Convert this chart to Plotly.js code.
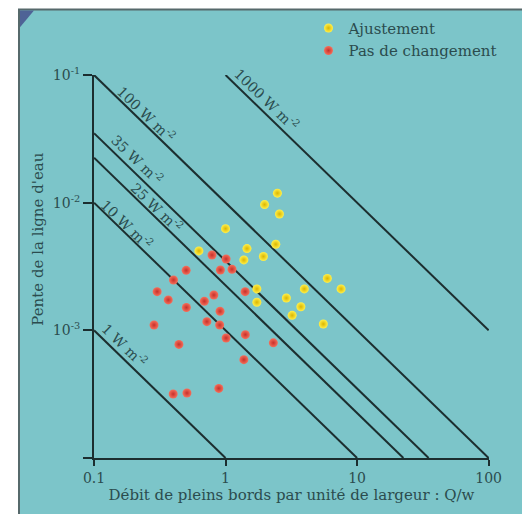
<!DOCTYPE html>
<html>
<head>
<meta charset="utf-8">
<script src="https://cdn.plot.ly/plotly-3.0.1.min.js"></script>
<style>html,body{margin:0;padding:0;background:#fff;}#chart{width:522px;height:514px;}</style>
</head>
<body>
<div id="chart"></div>
<script>
// Ajustement (yellow) points: Q/w and slope
const adjX = [2.48, 1.98, 2.57, 1.00, 2.41, 0.627, 1.455, 1.378, 1.94, 5.94, 7.56, 3.97, 1.73, 2.90, 1.73, 3.74, 3.21, 5.54];
const adjY = [0.01187, 0.00966, 0.00815, 0.00626, 0.00472, 0.00419, 0.00437, 0.00356, 0.00379, 0.00255, 0.00211, 0.00211, 0.00211, 0.00179, 0.00166, 0.00153, 0.00131, 0.00112];
// Pas de changement (red) points
const noX = [0.789, 1.01, 0.914, 1.12, 0.502, 0.402, 1.41, 0.302, 0.815, 0.367, 0.690, 0.504, 0.908, 0.721, 0.902, 0.286, 1.01, 1.415, 0.442, 2.31, 1.378, 0.889, 0.400, 0.509];
const noY = [0.00389, 0.00362, 0.00297, 0.00301, 0.00295, 0.00248, 0.00201, 0.00201, 0.00189, 0.00173, 0.00169, 0.00151, 0.00141, 0.00117, 0.00110, 0.00110, 0.000871, 0.000925, 0.000776, 0.000798, 0.000589, 0.000351, 0.000317, 0.000323];
// Stream power lines (W m-2): endpoints
const powerNames = ["1000", "100", "35", "25", "10", "1"];
const powerX = [[1, 100], [0.1, 100], [0.1, 35], [0.1, 22.5], [0.1, 10], [0.1, 1]];
const powerY = [[0.1, 0.001], [0.1, 0.0001], [0.035, 0.0001], [0.0225, 0.0001], [0.01, 0.0001], [0.001, 0.0001]];
// Label positions for the power lines
const labelX = [2.05, 0.2515, 0.2113, 0.2999, 0.1774, 0.171];
const labelY = [0.065, 0.0498, 0.0218, 0.00925, 0.0068, 0.000766];
// Axis ticks
const xTickVals = [0.1, 1, 10, 100];
const xTickText = ["0.1", "1", "10", "100"];
const yTickVals = [0.0001, 0.001, 0.01, 0.1];
const yTickText = [" ", "10<sup>-3</sup>", "10<sup>-2</sup>", "10<sup>-1</sup>"];

const ink = "#1c2e2f";
const txt = "#2b4c4e";
const font = "DejaVu Serif, Liberation Serif, serif";

const traces = [];
powerNames.forEach((n, i) => {
  traces.push({
    x: powerX[i], y: powerY[i], mode: "lines", type: "scatter",
    line: {color: ink, width: 2}, showlegend: false, hoverinfo: "skip"
  });
});
traces.push({
  x: adjX, y: adjY, mode: "markers", type: "scatter", name: "Ajustement",
  marker: {size: 9, color: "#fff04a", gradient: {type: "radial", color: "#dcb600"}, line: {width: 0}}
});
traces.push({
  x: noX, y: noY, mode: "markers", type: "scatter", name: "Pas de changement",
  marker: {size: 9, color: "#f4705c", gradient: {type: "radial", color: "#c8302a"}, line: {width: 0}}
});

const annotations = powerNames.map((n, i) => ({
  x: Math.log10(labelX[i]), y: Math.log10(labelY[i]), xref: "x", yref: "y",
  text: n + " W m<sup>-2</sup>", showarrow: false, textangle: 44,
  xanchor: "center", yanchor: "middle",
  font: {family: font, size: 14, color: txt}
}));
annotations.push({
  x: (38 - 94) / 395, y: (458 - 238) / 386, xref: "paper", yref: "paper",
  text: "Pente de la ligne d'eau", showarrow: false, textangle: -90,
  xanchor: "center", yanchor: "middle",
  font: {family: font, size: 15, color: txt}
});

const layout = {
  width: 522, height: 514,
  margin: {l: 94, r: 33, t: 72, b: 56},
  paper_bgcolor: "#ffffff",
  plot_bgcolor: "rgba(0,0,0,0)",
  font: {family: font, color: txt},
  showlegend: true,
  legend: {
    x: 0.543, y: 1.165, xanchor: "left", yanchor: "top",
    bgcolor: "rgba(0,0,0,0)", font: {family: font, size: 15, color: txt},
    itemwidth: 30, tracegroupgap: 0
  },
  xaxis: {
    type: "log", range: [-1, 2.003], tickvals: xTickVals, ticktext: xTickText,
    showgrid: false, zeroline: false, showline: true, linecolor: ink, linewidth: 2,
    ticks: "outside", ticklen: 6, tickwidth: 2, tickcolor: ink,
    tickfont: {family: font, size: 14, color: txt},
    title: {text: "Débit de pleins bords par unité de largeur : Q/w", font: {family: font, size: 15, color: txt}, standoff: 4}
  },
  yaxis: {
    type: "log", range: [-4, -1], tickvals: yTickVals, ticktext: yTickText,
    showgrid: false, zeroline: false, showline: true, linecolor: ink, linewidth: 2,
    ticks: "outside", ticklen: 9, tickwidth: 2, tickcolor: ink,
    tickfont: {family: font, size: 14, color: txt}
  },
  shapes: [{
    type: "rect", xref: "paper", yref: "paper", layer: "below",
    x0: (19 - 94) / 395, x1: (524 - 94) / 395, y0: (458 - 516) / 386, y1: (458 - 6) / 386,
    fillcolor: "#7cc5c9", line: {color: "#56696b", width: 2}
  }, {
    type: "path", xref: "paper", yref: "paper", layer: "below",
    path: "M " + ((20 - 94) / 395) + "," + ((458 - 7) / 386) +
          " L " + ((34 - 94) / 395) + "," + ((458 - 7) / 386) +
          " L " + ((20 - 94) / 395) + "," + ((458 - 24) / 386) + " Z",
    fillcolor: "#4e6396", line: {width: 0}
  }],
  annotations: annotations
};

Plotly.newPlot("chart", traces, layout, {displayModeBar: false, staticPlot: true});
</script>
</body>
</html>
